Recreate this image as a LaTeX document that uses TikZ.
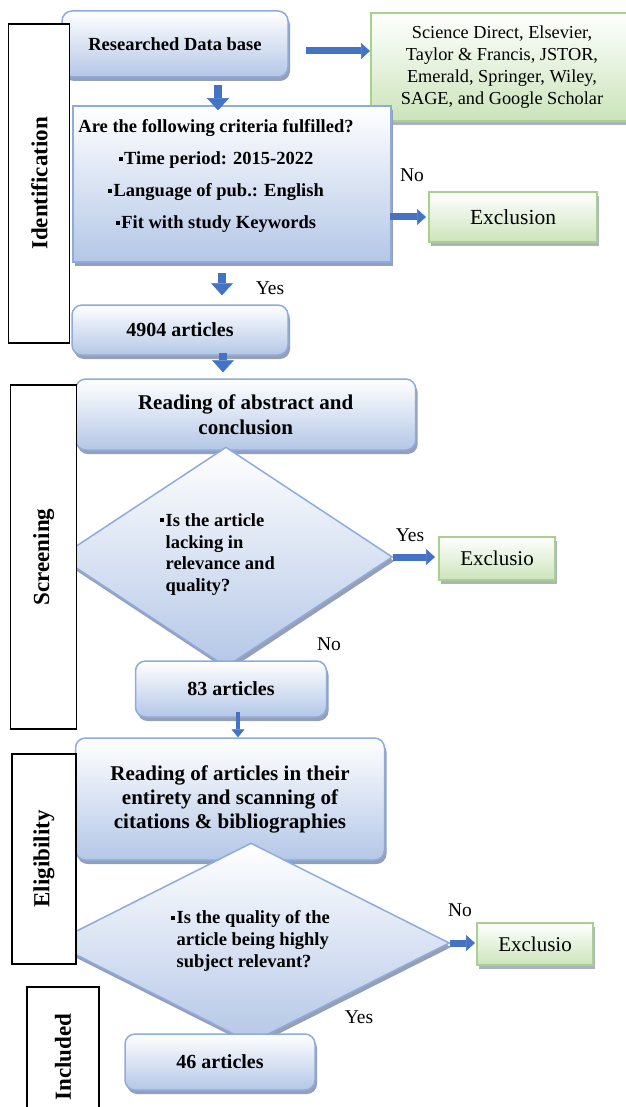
\documentclass[tikz,border=0pt]{standalone}
\usepackage{fontspec}
\setmainfont{Liberation Serif}
\usepackage{tikz}
\usetikzlibrary{shapes.geometric, arrows.meta, shadows, calc}
\definecolor{boxline}{RGB}{143,170,220}
\definecolor{boxfill}{RGB}{180,199,231}
\definecolor{boxshade}{RGB}{150,160,180}
\definecolor{greenline}{RGB}{169,209,142}
\definecolor{greenfill}{RGB}{203,228,186}
\definecolor{arrowblue}{RGB}{68,114,196}

\newcommand{\sqb}{\rule[4pt]{4pt}{4pt}\hspace{1.5pt}}

\begin{document}
\begin{tikzpicture}[x=1pt, y=-1pt,
    flowbox/.style={rectangle, draw=boxline, line width=1.5pt, rounded corners=10pt, top color=white, bottom color=boxfill, drop shadow={shadow xshift=2pt, shadow yshift=-4pt, fill=boxshade, opacity=1}, align=center, inner sep=0pt, font=\fontsize{20}{24}\selectfont\bfseries},
    critbox/.style={flowbox, rounded corners=0pt},
    decision/.style={diamond, draw=boxline, line width=1.5pt, top color=white, bottom color=boxfill, drop shadow={shadow xshift=2pt, shadow yshift=-4pt, fill=boxshade, opacity=1}, inner sep=0pt},
    question/.style={align=left, inner sep=0pt, font=\fontsize{18.5}{21.7}\selectfont\bfseries},
    outbox/.style={rectangle, draw=greenline, line width=2pt, top color=white, bottom color=greenfill, drop shadow={shadow xshift=2pt, shadow yshift=-4pt, fill=boxshade!80, opacity=1}, align=center, inner sep=0pt, font=\fontsize{21}{24}\selectfont},
    phase/.style={rectangle, draw=black, line width=1.2pt, fill=white, rotate=90, inner sep=0pt, font=\fontsize{23}{26}\selectfont\bfseries},
    answer/.style={inner sep=0pt, font=\fontsize{19.5}{22}\selectfont},
    flowarrow/.style={draw=arrowblue, line width=8pt, -{Triangle[length=12pt, width=22pt, line width=0.5pt]}},
    sidearrow/.style={draw=arrowblue, line width=7pt, -{Triangle[length=9pt, width=16pt, line width=0.5pt]}},
    thinarrow/.style={draw=arrowblue, line width=3.5pt, -{Triangle[length=8pt, width=13pt, line width=0.5pt]}},
]
\useasboundingbox (0,0) rectangle (625,1107);

\node[flowbox, minimum width=226pt, minimum height=66pt, font=\fontsize{18.5}{22}\selectfont\bfseries] (db) at (175,44) {Researched Data base};
\node[outbox, minimum width=262pt, minimum height=108pt, font=\fontsize{18.3}{22}\selectfont] (sources) at (502,67)
    {Science Direct, Elsevier,\\Taylor \& Francis, JSTOR,\\Emerald, Springer, Wiley,\\SAGE, and Google Scholar};
\node[critbox, minimum width=318pt, minimum height=156pt] (crit) at (232,184) {};
\node[align=center, inner sep=0pt, font=\fontsize{18.5}{32}\selectfont\bfseries] (crittext) at (216,176)
    {Are the following criteria fulfilled?\\\sqb Time period: 2015-2022\\\sqb Language of pub.: English\\\sqb Fit with study Keywords};
\node[outbox, minimum width=168pt, minimum height=50pt, font=\fontsize{21.5}{24}\selectfont] (excl1) at (513,217) {Exclusion};

\node[flowbox, minimum width=216pt, minimum height=50pt] (d4904) at (180,330) {4904 articles};
\node[flowbox, minimum width=340pt, minimum height=71pt, font=\fontsize{21}{24.5}\selectfont\bfseries] (abs) at (245.7,414.5) {Reading of abstract and\\conclusion};
\node[decision, minimum width=333pt, minimum height=220pt] (dia1) at (226,557) {};
\node[question, anchor=west] (q1) at (160,554.5)
    {\sqb Is the article\\\phantom{\sqb}lacking in\\\phantom{\sqb}relevance and\\\phantom{\sqb}quality?};
\node[outbox, minimum width=116pt, minimum height=43pt] (excl2) at (497,558.5) {Exclusio};
\node[flowbox, minimum width=191pt, minimum height=56pt] (d83) at (231,689) {83 articles};

\node[flowbox, minimum width=309pt, minimum height=122pt, font=\fontsize{21}{24}\selectfont\bfseries] (full) at (230,799)
    {Reading of articles in their\\entirety and scanning of\\citations \& bibliographies};
\node[decision, minimum width=397pt, minimum height=200pt] (dia2) at (251,943) {};
\node[question, anchor=west] (q2) at (171,941)
    {\sqb Is the quality of the\\\phantom{\sqb}article being highly\\\phantom{\sqb}subject relevant?};
\node[outbox, minimum width=116pt, minimum height=42pt] (excl3) at (535,944) {Exclusio};
\node[flowbox, minimum width=190pt, minimum height=56pt] (d46) at (220,1062) {46 articles};

\node[phase, minimum width=319pt, minimum height=61pt] (identification) at (39.3,183.5) {Identification};
\node[phase, minimum width=344pt, minimum height=66pt] (screening) at (43.6,557) {Screening};
\node[phase, minimum width=210pt, minimum height=64pt] (eligibility) at (43.9,859) {Eligibility};
\node[phase, minimum width=140pt, minimum height=72pt] (included) at (63,1057) {Included};

\draw[sidearrow] ([xshift=17pt,yshift=-7pt]db.east) -- ([yshift=-7pt]db.east -| sources.west);
\draw[flowarrow] ([xshift=43pt,yshift=-7pt]db.south) -- ([xshift=43pt,yshift=-5pt]db.south |- crit.north);
\draw[sidearrow] ([xshift=-2pt]crit.east |- excl1.west) -- ([xshift=-2pt]excl1.west);
\draw[flowarrow] ([xshift=-10pt,yshift=-10pt]crit.south) -- ([xshift=-10pt,yshift=9pt]crit.south |- d4904.north);
\draw[flowarrow] ([xshift=43pt,yshift=3pt]d4904.south) -- ([xshift=43pt,yshift=6pt]d4904.south |- abs.north);
\draw[sidearrow] (dia1.east) -- ([xshift=-3pt]dia1.east -| excl2.west);
\draw[thinarrow] ([xshift=7pt,yshift=6pt]d83.south) -- ([xshift=7pt]d83.south |- full.north);
\draw[sidearrow] (dia2.east) -- ([xshift=-1pt]dia2.east -| excl3.west);

\node[answer] (no1) at (412,175) {No};
\node[answer] (yes1) at (270,288) {Yes};
\node[answer] (yes2) at (410,535) {Yes};
\node[answer] (no2) at (329,644) {No};
\node[answer] (no3) at (460,910) {No};
\node[answer] (yes3) at (359,1017) {Yes};

\end{tikzpicture}
\end{document}
